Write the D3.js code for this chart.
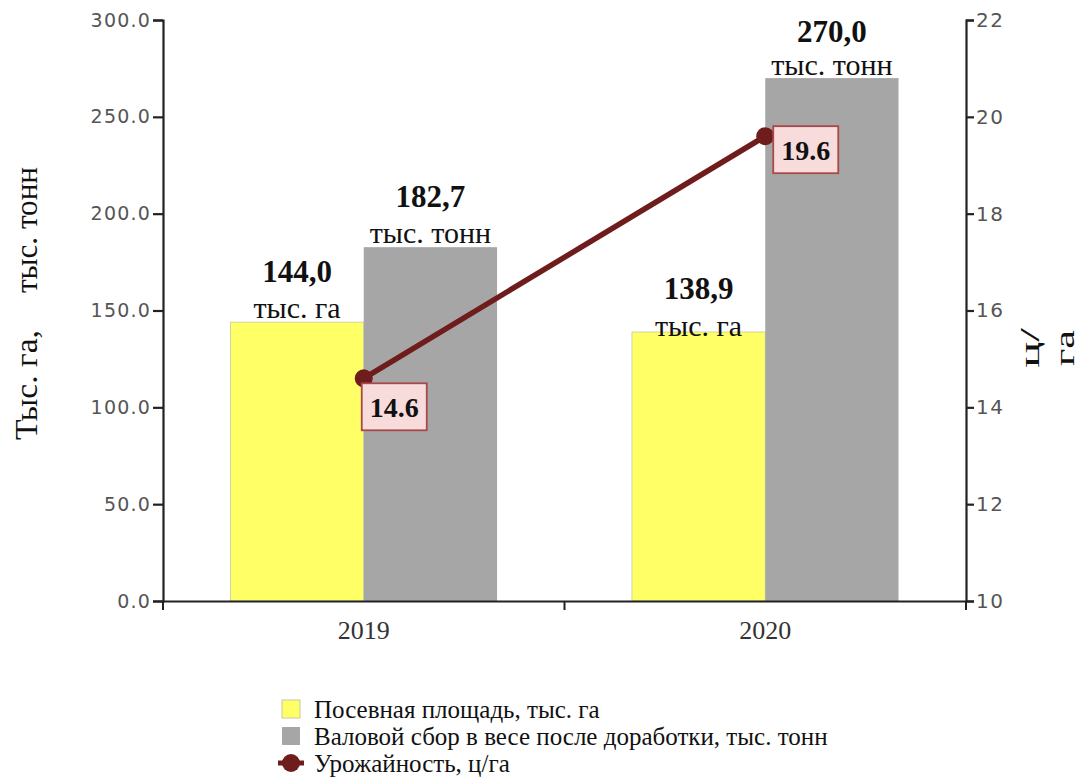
<!DOCTYPE html>
<html><head><meta charset="utf-8">
<script src="https://cdn.jsdelivr.net/npm/d3@7"></script>
<style>body{margin:0;background:#fff}svg{display:block}</style>
</head><body>
<svg id="c" width="1081" height="780"></svg>
<script>
const categories = ["2019", "2020"];
const areaValues = [144.0, 138.9];
const harvestValues = [182.7, 270.0];
const yieldValues = [14.6, 19.6];
const areaLabels = ["144,0", "138,9"];
const harvestLabels = ["182,7", "270,0"];
const yieldLabels = ["14.6", "19.6"];
const leftTicks = [0, 50, 100, 150, 200, 250, 300];
const rightTicks = [10, 12, 14, 16, 18, 20, 22];
const seriesNames = ["Посевная площадь, тыс. га", "Валовой сбор в весе после доработки, тыс. тонн", "Урожайность, ц/га"];
const unitArea = "тыс. га", unitHarvest = "тыс. тонн";

const svg = d3.select("#c");
const L = 163, R = 966, T = 20, B = 601;
const serif = "'Liberation Serif','Times New Roman',serif";
const sans = "'DejaVu Sans',Verdana,sans-serif";
const yellow = "#ffff66", gray = "#a6a6a6", lineCol = "#6e1c1c";

const x = d3.scaleBand().domain(categories).range([L, R]).paddingInner(0).paddingOuter(0);
const yL = d3.scaleLinear().domain([0, 300]).range([B, T]);
const yR = d3.scaleLinear().domain([10, 22]).range([B, T]);
const bw = x.bandwidth() * 0.332;
const center = c => x(c) + x.bandwidth() / 2;

// bars
const g = svg.append("g");
g.selectAll(".a").data(categories).join("rect")
  .attr("x", (c) => center(c) - bw).attr("width", bw)
  .attr("y", (c, i) => yL(areaValues[i])).attr("height", (c, i) => B - yL(areaValues[i]))
  .attr("fill", yellow).attr("stroke", "#c8c8a0").attr("stroke-width", 0.8);
g.selectAll(".h").data(categories).join("rect")
  .attr("x", (c) => center(c)).attr("width", bw)
  .attr("y", (c, i) => yL(harvestValues[i])).attr("height", (c, i) => B - yL(harvestValues[i]))
  .attr("fill", gray);

// bar labels
function barLabel(cx, top, val, unit, voff, uoff) {
  svg.append("text").attr("x", cx).attr("y", top + voff).attr("text-anchor", "middle")
    .attr("font-family", serif).attr("font-weight", "bold").attr("font-size", 31).attr("fill", "#111").text(val);
  svg.append("text").attr("x", cx).attr("y", top + uoff).attr("text-anchor", "middle")
    .attr("font-family", serif).attr("font-size", 30).attr("fill", "#111").text(unit);
}
// [area value, area unit, harvest value, harvest unit] offsets from bar top
const labelOff = [[-40, -4, -40, -4], [-33, 4, -36, -3]];
categories.forEach((c, i) => {
  barLabel(center(c) - bw / 2, yL(areaValues[i]), areaLabels[i], unitArea, labelOff[i][0], labelOff[i][1]);
  barLabel(center(c) + bw / 2, yL(harvestValues[i]), harvestLabels[i], unitHarvest, labelOff[i][2], labelOff[i][3]);
});

// axes
const axL = svg.append("g").attr("transform", `translate(${L},0)`)
  .call(d3.axisLeft(yL).tickValues(leftTicks).tickFormat(d3.format(".1f")).tickSizeOuter(0).tickSize(10).tickPadding(2));
const axR = svg.append("g").attr("transform", `translate(${R},0)`)
  .call(d3.axisRight(yR).tickValues(rightTicks).tickSizeOuter(0).tickSize(8).tickPadding(2));
const axB = svg.append("g").attr("transform", `translate(0,${B})`)
  .call(d3.axisBottom(x).tickSize(0).tickSizeOuter(0).tickPadding(20));
svg.append("g").selectAll("line").data([L, x(categories[1]), R]).join("line")
  .attr("x1", d => d).attr("x2", d => d).attr("y1", B).attr("y2", B + 9)
  .attr("stroke", "#222").attr("stroke-width", 2);
[axL, axR, axB].forEach(a => {
  a.selectAll("path,line").attr("stroke", "#222").attr("stroke-width", 2.2);
});
axL.selectAll("text").attr("font-family", sans).attr("font-size", 19).attr("fill", "#555").attr("letter-spacing", 1.2);
axR.selectAll("text").attr("font-family", sans).attr("font-size", 20).attr("fill", "#555").attr("letter-spacing", 1.5);
axB.selectAll("text").attr("font-family", serif).attr("font-size", 26).attr("fill", "#333");

// line
const pts = categories.map((c, i) => [center(c), yR(yieldValues[i])]);
svg.append("path").attr("d", d3.line()(pts)).attr("stroke", lineCol).attr("stroke-width", 5.5).attr("fill", "none");
svg.selectAll(".pt").data(pts).join("circle").attr("cx", d => d[0]).attr("cy", d => d[1]).attr("r", 9).attr("fill", lineCol);
const boxOff = [[-2, 5], [8, -10]];
pts.forEach((p, i) => {
  const bx = p[0] + boxOff[i][0], by = p[1] + boxOff[i][1];
  svg.append("rect").attr("x", bx).attr("y", by).attr("width", 65).attr("height", 47)
    .attr("fill", "#f8dcdc").attr("stroke", "#a84848").attr("stroke-width", 1.8);
  svg.append("text").attr("x", bx + 32.5).attr("y", by + 34).attr("text-anchor", "middle")
    .attr("font-family", serif).attr("font-weight", "bold").attr("font-size", 28).attr("fill", "#111").text(yieldLabels[i]);
});

// axis titles
function vtext(xp, yp, txt, size, len) {
  const t = svg.append("text").attr("transform", `translate(${xp},${yp}) rotate(-90)`).attr("text-anchor", "start")
    .attr("font-family", serif).attr("font-size", size).attr("fill", "#111").text(txt);
  if (len) t.attr("textLength", len).attr("lengthAdjust", "spacingAndGlyphs");
}
vtext(37, 440, "Тыс. га,", 31, 110);
vtext(37, 293, "тыс. тонн", 31, 126);
vtext(1039, 368, "ц/", 27, 40);
vtext(1074, 366, "га", 27, 36);

// legend
const lg = svg.append("g");
const ly = [709, 736, 763];
lg.append("rect").attr("x", 282).attr("y", ly[0] - 9).attr("width", 18).attr("height", 18).attr("fill", yellow).attr("stroke", "#c8c8a0");
lg.append("rect").attr("x", 282).attr("y", ly[1] - 9).attr("width", 18).attr("height", 18).attr("fill", gray);
lg.append("line").attr("x1", 278).attr("x2", 304).attr("y1", ly[2]).attr("y2", ly[2]).attr("stroke", lineCol).attr("stroke-width", 5);
lg.append("circle").attr("cx", 291).attr("cy", ly[2]).attr("r", 9).attr("fill", lineCol);
seriesNames.forEach((n, i) => {
  lg.append("text").attr("x", 314).attr("y", ly[i] + 9).attr("font-family", serif).attr("font-size", 25).attr("fill", "#111").text(n);
});
</script>
</body></html>
